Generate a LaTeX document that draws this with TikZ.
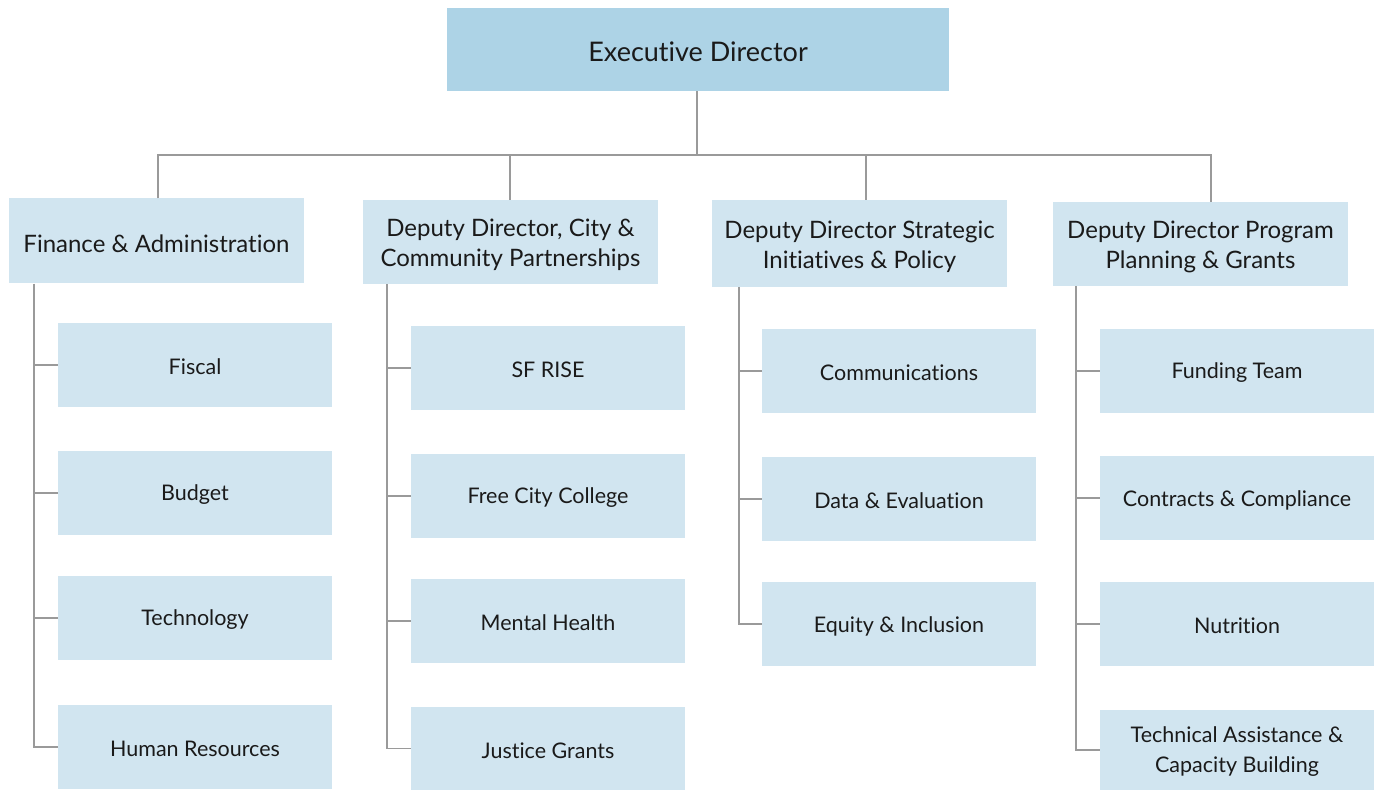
\documentclass[tikz,border=0pt]{standalone}
\usepackage{fontspec}
\setmainfont{Lato}[Ligatures={NoCommon}]
\definecolor{topfill}{HTML}{ADD3E6}
\definecolor{boxfill}{HTML}{D1E5F0}
\definecolor{linegray}{HTML}{9A9A9A}
\definecolor{txt}{HTML}{1A1A1A}
\begin{document}
\begin{tikzpicture}[x=1pt,y=1pt,
  topbox/.style={fill=topfill,minimum width=502pt,minimum height=83pt,inner sep=0pt,text=txt,font=\fontsize{27}{30}\selectfont},
  headbox/.style={fill=boxfill,minimum width=295pt,minimum height=85pt,inner sep=0pt,text=txt,align=center,font=\fontsize{24}{30}\selectfont},
  childbox/.style={fill=boxfill,minimum width=274pt,minimum height=84pt,inner sep=0pt,text=txt,align=center,font=\fontsize{21.5}{30}\selectfont},
  lbl/.style={inner sep=0pt,align=center,text=txt},
  conn/.style={draw=linegray,line width=1.2pt}]
\useasboundingbox (0,0) rectangle (1384,-791);
\node[topbox,label={[lbl,yshift=-2.5pt,font=\fontsize{27}{30}\selectfont]center:Executive Director}] (ed) at (698,-49.5) {};
\node[headbox,label={[lbl,yshift=-2.5pt,font=\fontsize{24}{30}\selectfont]center:Finance \& Administration}] (fa) at (156.5,-241) {};
\node[headbox,minimum height=84pt,label={[lbl,yshift=-3pt,font=\fontsize{24}{30}\selectfont]center:Deputy Director, City \&\\Community Partnerships}] (dc) at (510.5,-242) {};
\node[headbox,minimum height=87pt,label={[lbl,yshift=-3pt,font=\fontsize{24}{30}\selectfont]center:Deputy Director Strategic\\Initiatives \& Policy}] (ds) at (859.5,-243.5) {};
\node[headbox,minimum height=84pt,label={[lbl,yshift=-3pt,font=\fontsize{24}{30}\selectfont]center:Deputy Director Program\\Planning \& Grants}] (dp) at (1200.5,-244) {};
\tikzset{cl/.style={label={[lbl,yshift=-2pt,font=\fontsize{21.5}{30}\selectfont]center:#1}}}
% column 1
\node[childbox,cl=Fiscal] (fis) at (195,-365) {};
\node[childbox,cl=Budget] (bud) at (195,-493) {};
\node[childbox,cl=Technology] (tec) at (195,-618) {};
\node[childbox,cl=Human Resources] (hr) at (195,-747) {};
% column 2
\node[childbox,cl=SF RISE] (sfr) at (548,-368) {};
\node[childbox,cl=Free City College] (fcc) at (548,-496) {};
\node[childbox,cl=Mental Health] (mh) at (548,-621) {};
\node[childbox,minimum height=83pt,cl=Justice Grants] (jg) at (548,-748.5) {};
% column 3
\node[childbox,cl=Communications] (com) at (899,-371) {};
\node[childbox,cl=Data \& Evaluation] (de) at (899,-499) {};
\node[childbox,cl=Equity \& Inclusion] (ei) at (899,-624) {};
% column 4
\node[childbox,cl=Funding Team] (ft) at (1237,-371) {};
\node[childbox,cl=Contracts \& Compliance] (cc) at (1237,-498) {};
\node[childbox,cl=Nutrition] (nu) at (1237,-624) {};
\node[childbox,minimum height=80pt,label={[lbl,yshift=-2pt,font=\fontsize{21.5}{30}\selectfont]center:Technical Assistance \&\\Capacity Building}] (ta) at (1237,-750) {};
% connectors
\coordinate (bus) at (697,-155);
\draw[conn] (ed.south -| bus) -- (bus);
\draw[conn] (fa.north -| 158,0) |- (bus) -| (dp.north -| 1211,0);
\draw[conn] (dc.north -| 510,0) -- (510,-155);
\draw[conn] (ds.north -| 866,0) -- (866,-155);
% spines
\draw[conn] (fa.south -| 34,0) |- (hr.west);
\foreach \c in {fis,bud,tec} \draw[conn] (\c.west -| 34,0) -- (\c.west);
\draw[conn] (dc.south -| 387,0) |- (jg.west);
\foreach \c in {sfr,fcc,mh} \draw[conn] (\c.west -| 387,0) -- (\c.west);
\draw[conn] (ds.south -| 739,0) |- (ei.west);
\foreach \c in {com,de} \draw[conn] (\c.west -| 739,0) -- (\c.west);
\draw[conn] (dp.south -| 1076,0) |- (ta.west);
\foreach \c in {ft,cc,nu} \draw[conn] (\c.west -| 1076,0) -- (\c.west);
\end{tikzpicture}
\end{document}
